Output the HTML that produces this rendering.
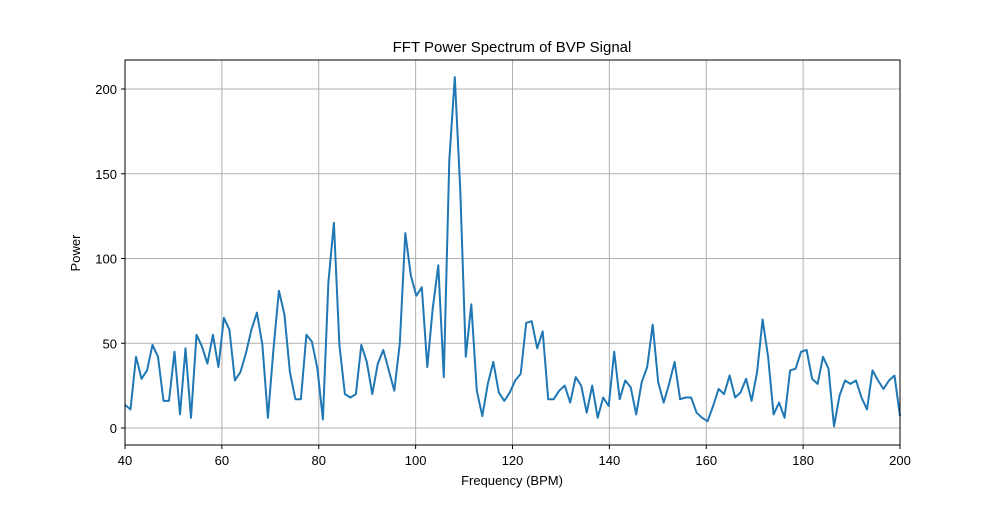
<!DOCTYPE html>
<html><head><meta charset="utf-8"><style>
body{margin:0;background:#fff;font-family:"Liberation Sans","DejaVu Sans",sans-serif;}
</style></head><body>
<svg id="chart" width="1000" height="500" xmlns="http://www.w3.org/2000/svg">
<rect width="1000" height="500" fill="#fff"/>
<text x="512" y="52" text-anchor="middle" font-size="15">FFT Power Spectrum of BVP Signal</text>
<g id="grid"></g>
<g id="ticks"></g>
<path id="line" fill="none" stroke="#1f77b4" stroke-width="2" stroke-linejoin="round"/>
<rect x="125" y="60" width="775" height="385" fill="none" stroke="#000" stroke-width="1"/>
<text x="512" y="485" text-anchor="middle" font-size="13">Frequency (BPM)</text>
<text x="80" y="253" text-anchor="middle" font-size="13" transform="rotate(-90 80 253)">Power</text>
</svg>
<script>
const xTicks=[40,60,80,100,120,140,160,180,200];
const yTicks=[0,50,100,150,200];
const freqStart=40, freqEnd=200;
const power=[13.6,11,42,29,34,49,42,16,16,45,8,47,6,55,48,38,55,36,65,58,28,33,44,58,68,49,6,46,81,67,33,17,17,55,51,35,5,86,121,49,20,18,20,49,39,20,38,46,34,22,50,115,90,78,83,36,71,96,30,158,207,140,42,73,22,7,26,39,21,16,21,28,32,62,63,47,57,17,17,22,25,15,30,25,9,25,6,18,13,45,17,28,24,8,27,36,61,27,15,26,39,17,18,18,9,6,4,13,23,20,31,18,21,29,16,33,64,42,8,15,6,34,35,45,46,29,26,42,35,1,19,28,26,28,18,11,34,28,23,28,31,7];
const X=v=>125+(v-40)*775/160, Y=v=>428-v*1.695;
const ns="http://www.w3.org/2000/svg";
const grid=document.getElementById('grid'), ticks=document.getElementById('ticks');
function mk(tag,attrs,parent){const e=document.createElementNS(ns,tag);for(const k in attrs)e.setAttribute(k,attrs[k]);parent.appendChild(e);return e;}
xTicks.forEach(t=>{
  const g=mk('line',{x1:X(t),x2:X(t),y1:60,y2:445,stroke:'#b0b0b0','stroke-width':1},grid);
  
  
  mk('line',{x1:X(t),x2:X(t),y1:445,y2:449,stroke:'#000'},ticks);
  const l=mk('text',{x:X(t),y:465,'text-anchor':'middle','font-size':13},ticks);
  l.textContent=t;
  
  
});
yTicks.forEach(t=>{
  const g=mk('line',{x1:125,x2:900,y1:Y(t),y2:Y(t),stroke:'#b0b0b0','stroke-width':1},grid);
  
  
  mk('line',{x1:121,x2:125,y1:Y(t),y2:Y(t),stroke:'#000'},ticks);
  const l=mk('text',{x:117,y:Y(t)+5,'text-anchor':'end','font-size':13},ticks);
  l.textContent=t;
  
  
});
const step=(freqEnd-freqStart)/(power.length-1);
document.getElementById('line').setAttribute('d',power.map((p,i)=>(i?'L':'M')+X(freqStart+i*step).toFixed(1)+' '+Y(p).toFixed(1)).join(' '));
</script>
</body></html>
